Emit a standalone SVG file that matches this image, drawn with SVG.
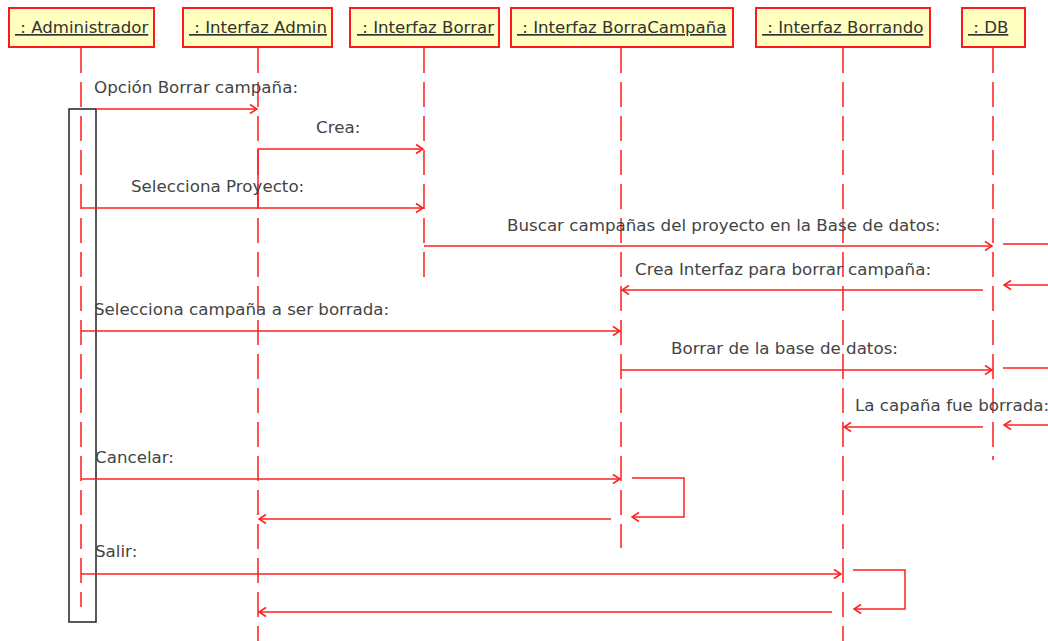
<svg xmlns="http://www.w3.org/2000/svg" width="1048" height="641" viewBox="0 0 1048 641">
  <style>
    .obj { fill: #ffffc0; stroke: #ff1a1a; stroke-width: 2; }
    .objtxt { font-family: "DejaVu Sans", sans-serif; font-size: 16.6px; fill: #333333; text-decoration: underline; white-space: pre; }
    .life { stroke: #ff2a2a; stroke-width: 1.6; stroke-dasharray: 25 9; fill: none; }
    .msg { stroke: #ff2020; stroke-width: 1.5; fill: none; }
    .lbl { font-family: "DejaVu Sans", sans-serif; font-size: 16.7px; fill: #444444; }
    .act { fill: none; stroke: #222222; stroke-width: 1.5; }
  </style>
  <defs>
    <marker id="open" markerUnits="userSpaceOnUse" markerWidth="12" markerHeight="12" refX="8" refY="5" orient="auto" overflow="visible">
      <path d="M1,0.5 L8,5 L1,9.5" fill="none" stroke="#ff2020" stroke-width="1.5"/>
    </marker>
  </defs>

  <rect width="1048" height="641" fill="#ffffff"/>

  <!-- lifelines -->
  <g id="lifelines">
    <line class="life" x1="81" y1="48" x2="81" y2="607"/>
    <line class="life" x1="258" y1="48" x2="258" y2="641"/>
    <line class="life" x1="424" y1="48" x2="424" y2="277"/>
    <line class="life" x1="621" y1="48" x2="621" y2="548"/>
    <line class="life" x1="843" y1="48" x2="843" y2="641"/>
    <line class="life" x1="993" y1="48" x2="993" y2="460"/>
  </g>

  <!-- participants -->
  <g id="administrador">
    <rect class="obj" x="9" y="8" width="145" height="39"/>
    <text class="objtxt" x="15" y="33">&#160;: Administrador</text>
  </g>
  <g id="interfaz-admin">
    <rect class="obj" x="183" y="8" width="149" height="39"/>
    <text class="objtxt" x="189" y="33">&#160;: Interfaz Admin</text>
  </g>
  <g id="interfaz-borrar">
    <rect class="obj" x="350" y="8" width="149" height="39"/>
    <text class="objtxt" x="357" y="33">&#160;: Interfaz Borrar</text>
  </g>
  <g id="interfaz-borracampana">
    <rect class="obj" x="511" y="8" width="222" height="39"/>
    <text class="objtxt" x="517" y="33">&#160;: Interfaz BorraCampaña</text>
  </g>
  <g id="interfaz-borrando">
    <rect class="obj" x="756" y="8" width="174" height="39"/>
    <text class="objtxt" x="762" y="33">&#160;: Interfaz Borrando</text>
  </g>
  <g id="db">
    <rect class="obj" x="962" y="8" width="63" height="39"/>
    <text class="objtxt" x="968" y="33">&#160;: DB</text>
  </g>

  <!-- activation of the administrator -->
  <g id="activacion">
    <rect class="act" x="69" y="109" width="27" height="513"/>
  </g>

  <!-- messages -->
  <g id="mensajes">
    <line class="msg" x1="96" y1="109" x2="257" y2="109" marker-end="url(#open)"/>
    <polyline class="msg" points="258,208 258,149 423,149" marker-end="url(#open)"/>
    <line class="msg" x1="81" y1="208" x2="423" y2="208" marker-end="url(#open)"/>
    <line class="msg" x1="424" y1="246" x2="992" y2="246" marker-end="url(#open)"/>
    <line class="msg" x1="1003" y1="244" x2="1048" y2="244"/>
    <line class="msg" x1="983" y1="290" x2="622" y2="290" marker-end="url(#open)"/>
    <line class="msg" x1="1048" y1="285" x2="1004" y2="285" marker-end="url(#open)"/>
    <line class="msg" x1="81" y1="331" x2="620" y2="331" marker-end="url(#open)"/>
    <line class="msg" x1="621" y1="370" x2="992" y2="370" marker-end="url(#open)"/>
    <line class="msg" x1="1003" y1="368" x2="1048" y2="368"/>
    <line class="msg" x1="983" y1="427" x2="844" y2="427" marker-end="url(#open)"/>
    <line class="msg" x1="1048" y1="425" x2="1004" y2="425" marker-end="url(#open)"/>
    <line class="msg" x1="81" y1="479" x2="620" y2="479" marker-end="url(#open)"/>
    <polyline class="msg" points="632,478 684,478 684,517 632,517" marker-end="url(#open)"/>
    <line class="msg" x1="611" y1="519" x2="259" y2="519" marker-end="url(#open)"/>
    <line class="msg" x1="81" y1="574" x2="841" y2="574" marker-end="url(#open)"/>
    <polyline class="msg" points="853,570 905,570 905,609 854,609" marker-end="url(#open)"/>
    <line class="msg" x1="832" y1="612" x2="259" y2="612" marker-end="url(#open)"/>
  </g>

  <!-- message labels -->
  <g id="etiquetas">
    <text class="lbl" x="94" y="93">Opción Borrar campaña:</text>
    <text class="lbl" x="316" y="133">Crea:</text>
    <text class="lbl" x="131" y="192">Selecciona Proyecto:</text>
    <text class="lbl" x="507" y="231">Buscar campañas del proyecto en la Base de datos:</text>
    <text class="lbl" x="635" y="275">Crea Interfaz para borrar campaña:</text>
    <text class="lbl" x="94" y="315">Selecciona campaña a ser borrada:</text>
    <text class="lbl" x="671" y="354">Borrar de la base de datos:</text>
    <text class="lbl" x="855" y="411">La capaña fue borrada:</text>
    <text class="lbl" x="95" y="463">Cancelar:</text>
    <text class="lbl" x="95" y="557">Salir:</text>
  </g>
</svg>
